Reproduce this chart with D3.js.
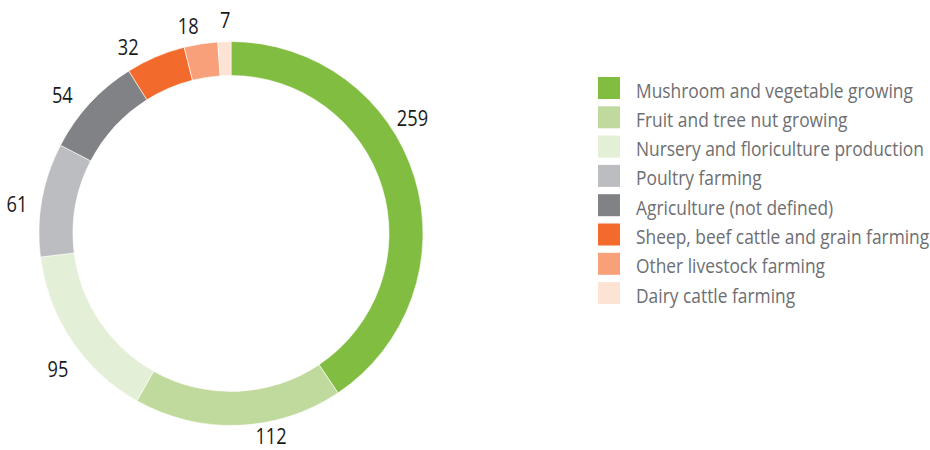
<!DOCTYPE html>
<html><head><meta charset="utf-8">
<script src="https://cdn.jsdelivr.net/npm/d3@7"></script>
<style>body{margin:0;background:#fff}</style>
</head><body>
<svg id="c" width="930" height="450"></svg>
<script>
const categories = ["Mushroom and vegetable growing","Fruit and tree nut growing","Nursery and floriculture production","Poultry farming","Agriculture (not defined)","Sheep, beef cattle and grain farming","Other livestock farming","Dairy cattle farming"];
const values = [259,112,95,61,54,32,18,7];
const colors = ["#80bd41","#c0da9e","#e3efd6","#bcbdc0","#808285","#f26a2c","#f8a07a","#fde3d3"];
// label placement tweaks – layout only
const labelNudge = [-15.5,-8.9,-4.3,-2.5,-3.3,-5.7,-2.6,0.4];
const labelRadius = [215,207,220,216,218,213,212,213];

const svg = d3.select("#c");
const cx = 231, cy = 233.5, rOuter = 192, rInner = 158;
const font = "'Open Sans',sans-serif";

const pie = d3.pie().sort(null).value(d => d)(values);
const arc = d3.arc().innerRadius(rInner).outerRadius(rOuter);
const g = svg.append("g").attr("transform", `translate(${cx},${cy})`);
g.selectAll("path").data(pie).join("path")
  .attr("d", arc).attr("fill", (d,i) => colors[i])
  .attr("stroke", "#fff").attr("stroke-width", 0.6);

// legend
const y = d3.scaleBand().domain(categories).range([77, 77 + 29.3*8]).paddingInner(0);
const lg = svg.append("g");
const rows = lg.selectAll("g").data(categories).join("g")
  .attr("transform", d => `translate(598,${y(d)})`);
rows.append("rect").attr("width",22).attr("height",22).attr("fill",(d,i)=>colors[i]);
const lt = rows.append("text")
  .attr("font-family", font).attr("font-size",20.5).attr("fill","#6d6e71")
  .text(d => d);
const w0 = lt.node().getComputedTextLength();
const sx = 277 / w0;
lt.attr("transform", `translate(38,20.5) scale(${sx},1)`);

// value labels
const lbl = g.selectAll("g.lbl").data(pie).join("g").attr("class","lbl")
  .attr("transform", (d,i) => {
    const a = (d.startAngle + d.endAngle)/2 + labelNudge[i]*Math.PI/180;
    const r = labelRadius[i];
    return `translate(${r*Math.sin(a)},${-r*Math.cos(a)}) scale(${sx},1)`;
  });
lbl.append("text")
  .attr("text-anchor","middle").attr("dy","0.36em")
  .attr("font-family", font).attr("font-size", 21.5).attr("fill","#1a1a1a")
  .text(d => d.data);
</script>
</body></html>
